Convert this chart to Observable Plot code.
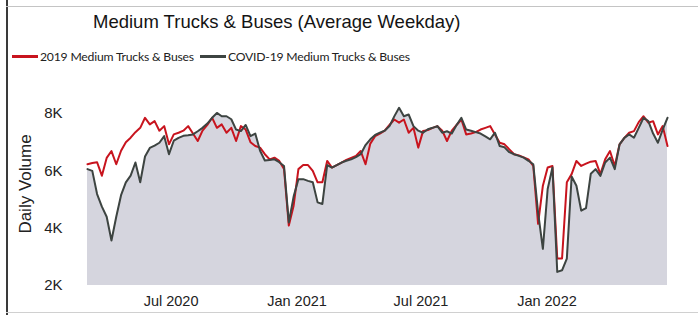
<!DOCTYPE html>
<html><head><meta charset="utf-8">
<script src="https://cdn.jsdelivr.net/npm/d3@7"></script>
<script src="https://cdn.jsdelivr.net/npm/@observablehq/plot@0.6"></script>
<style>
body{margin:0;background:#fff;}
#wrap{position:relative;width:698px;height:315px;overflow:hidden;font-family:"Liberation Sans",Arial,sans-serif;background:#fff;}
#frameL{position:absolute;left:6px;top:0;width:2px;height:315px;background:#3a3a3a;}
#frameT{position:absolute;left:6px;top:6px;width:692px;height:1px;background:#c4c4c4;}
#frameB{position:absolute;left:6px;top:312px;width:692px;height:1px;background:#d0d0d0;}
#title{position:absolute;left:93px;top:11px;font-size:18.5px;color:#141414;white-space:nowrap;}
#legend{position:absolute;left:12px;top:49px;font-family:Lato,"Noto Sans",sans-serif;font-size:12.2px;letter-spacing:-0.2px;color:#222;white-space:nowrap;display:flex;align-items:center;}
.sw{display:inline-block;width:26px;height:2.5px;margin-right:2px;}
.lab{margin-right:6px;}
#ylab{position:absolute;left:26px;top:184px;transform:translate(-50%,-50%) rotate(-90deg);font-size:17px;color:#222;white-space:nowrap;}
#chart{position:absolute;left:0;top:80px;}
</style></head>
<body>
<div id="wrap">
  <div id="frameL"></div><div id="frameT"></div><div id="frameB"></div>
  <div id="title">Medium Trucks &amp; Buses (Average Weekday)</div>
  <div id="legend"></div>
  <div id="ylab">Daily Volume</div>
  <div id="chart"></div>
</div>
<script>
// Weekly series, first week starting 2020-03-01
const firstWeek = "2020-03-01";
const seriesNames = ["2019 Medium Trucks & Buses", "COVID-19 Medium Trucks & Buses"];
const seriesColors = ["#c8141e", "#3d4441"];
const yTicks = [2000, 4000, 6000, 8000];
const xTickDates = ["2020-07-01", "2021-01-01", "2021-07-01", "2022-01-01"];

const baseline2019 = [
6230,6270,6300,5830,6450,6690,6230,6700,7000,7155,
7350,7500,7850,7620,7733,7400,7560,6925,7270,7330,
7400,7560,7300,7040,7400,7600,7850,7500,7620,7330,
7500,7040,7560,7440,7000,6865,6810,6580,6400,6460,
6345,6060,4090,4785,6060,6200,6200,6000,5600,5600,
6345,6115,6200,6290,6380,6450,6520,6690,6230,6950,
7210,7300,7400,7600,7790,7680,7790,7330,7500,6810,
7386,7420,7500,7560,7400,7040,7400,7600,7790,7270,
7300,7350,7440,7500,7560,7270,6980,6925,6750,6580,
6540,6470,6400,6170,4150,5480,6115,6170,2940,2940,
5600,5885,6345,6170,6250,6320,6345,5885,6400,6690,
6170,6925,7150,7330,7386,7700,7905,7680,7733,7270,
7560,6865];

const covid = [
6060,6000,5190,4750,4400,3570,4400,5150,5600,5830,
6290,5600,6500,6800,6880,6980,7210,6580,7050,7150,
7220,7240,7270,7380,7500,7650,7850,8020,7905,7905,
7800,7440,7386,7600,7210,7300,6700,6360,6380,6400,
6300,6170,4200,5100,5710,5710,5650,5600,4900,4845,
6200,6115,6200,6290,6350,6400,6480,6580,6900,7100,
7250,7330,7400,7560,7900,8200,7905,7965,7560,7400,
7330,7450,7500,7560,7330,7380,7300,7600,7850,7440,
7400,7350,7300,7200,7100,7330,6865,6820,6650,6580,
6520,6460,6350,6230,4555,3280,5365,6115,2475,2530,
2940,5800,5480,4610,4700,5900,6060,5825,6290,6460,
6060,6925,7150,7270,7155,7500,7850,7733,7300,6980,
7440,7850];

const start = new Date(firstWeek + "T00:00:00Z");
const data = covid.map((c, i) => ({
  date: d3.utcDay.offset(start, 7 * i),
  base: baseline2019[i],
  covid: c
}));

// legend
const legend = document.getElementById("legend");
seriesNames.forEach((n, i) => {
  const s = document.createElement("span"); s.className = "sw"; s.style.background = seriesColors[i];
  const t = document.createElement("span"); t.className = "lab"; t.textContent = n;
  legend.appendChild(s); legend.appendChild(t);
});

const chart = Plot.plot({
  width: 698,
  height: 235,
  marginLeft: 87,
  marginRight: 31,
  marginTop: 33,
  marginBottom: 30,
  style: {fontFamily: "Liberation Sans, Arial, sans-serif", color: "#222", background: "transparent"},
  x: {type: "utc", domain: [data[0].date, data[data.length - 1].date]},
  y: {domain: [2000, 8000]},
  marks: [
    Plot.areaY(data, {x: "date", y1: () => 2000, y2: "covid", fill: "#d5d5de"}),
    Plot.lineY(data, {x: "date", y: "base", stroke: seriesColors[0], strokeWidth: 2}),
    Plot.lineY(data, {x: "date", y: "covid", stroke: seriesColors[1], strokeWidth: 2}),
    Plot.axisX({ticks: xTickDates.map(d => new Date(d + "T00:00:00Z")), tickFormat: d3.utcFormat("%b %Y"), tickSize: 0, tickPadding: 10, fontSize: 14.5, label: null}),
    Plot.axisY({ticks: yTicks, tickFormat: d => d / 1000 + "K", tickSize: 0, tickPadding: 25, fontSize: 15, label: null})
  ]
});
document.getElementById("chart").appendChild(chart);
</script>
</body></html>
